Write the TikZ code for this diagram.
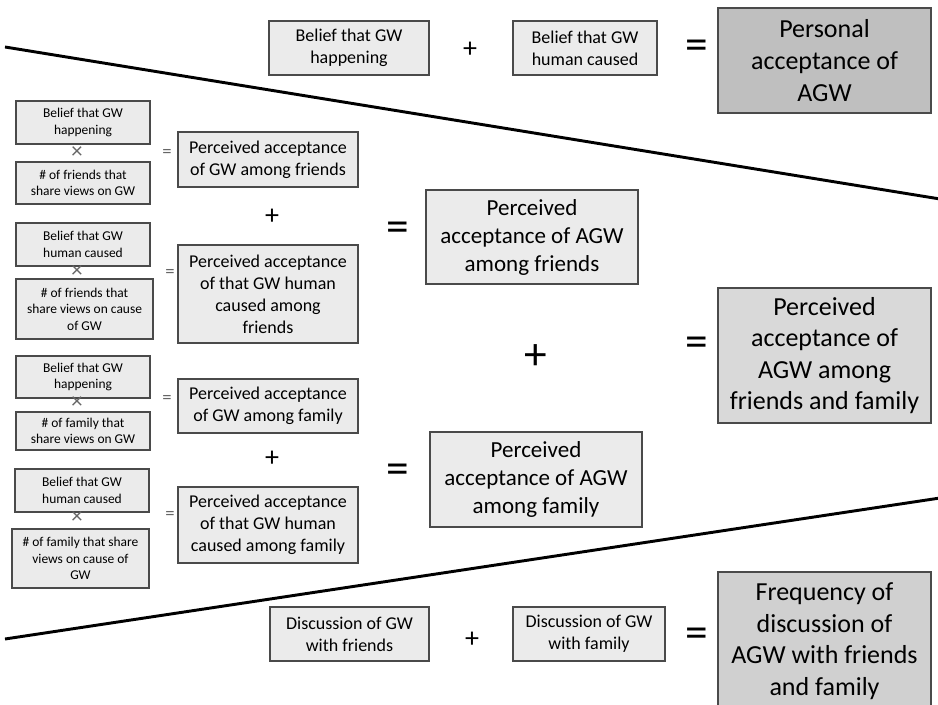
\documentclass[tikz,border=0pt]{standalone}
\usepackage{fontspec}
\setmainfont{Carlito}
\definecolor{boxline}{HTML}{4A4A4A}
\definecolor{lightfill}{HTML}{EBEBEB}
\definecolor{personalfill}{HTML}{BFBFBF}
\definecolor{groupfill}{HTML}{D9D9D9}
\definecolor{talkfill}{HTML}{D0D0D0}
\definecolor{opgray}{HTML}{666666}
\tikzset{
  box/.style={draw=boxline, line width=1.1pt, fill=lightfill, inner sep=0pt, align=center},
  tinybox/.style={box, font=\fontsize{10.1}{12.3}\selectfont},
  midbox/.style={box, font=\fontsize{13.5}{16.5}\selectfont},
  bigbox/.style={box, font=\fontsize{17.25}{21}\selectfont},
  hugebox/.style={box, font=\fontsize{19.5}{23.7}\selectfont},
  times/.style={inner sep=0pt, text=opgray, font=\fontsize{17}{17}\selectfont},
  smalleq/.style={inner sep=0pt, text=opgray, font=\fontsize{14}{14}\selectfont},
  midop/.style={inner sep=0pt, yshift=-1.5pt, font=\fontsize{21}{21}\selectfont},
  bigop/.style={inner sep=0pt, yshift=-3.5pt, font=\fontsize{34}{34}\selectfont},
  divider/.style={line width=2.2pt}
}
\begin{document}
\begin{tikzpicture}[x=0.75pt, y=-0.75pt]
\useasboundingbox (0,0) rectangle (938,705);
% dividing lines
\draw [divider] (5,47) -- (940,199);
\draw [divider] (5,639) -- (940,498);
% personal acceptance
\node [midbox, minimum width=120pt, minimum height=40.5pt] (phap) at (349,48) {Belief that GW\\happening};
\node [midop] (pplus) at (470,48) {+};
\node [midbox, minimum width=108pt, minimum height=40.5pt] (pcau) at (585,48) {Belief that GW\\human caused};
\node [bigop] (peq) at (697,45) {=};
\node [hugebox, fill=personalfill, minimum width=159.75pt, minimum height=78.75pt] (pers) at (824.5,60.5) {Personal\\acceptance of\\AGW};
% friends
\node [tinybox, minimum width=100.5pt, minimum height=32.25pt] (fhap) at (83,122.5) {Belief that GW\\happening};
\node [times] (fx1) at (77,153) {×};
\node [tinybox, minimum width=100.5pt, minimum height=31.5pt] (fnum1) at (83,183) {\# of friends that\\share views on GW};
\node [smalleq] (feq1) at (167,153) {=};
\node [midbox, minimum width=135pt, minimum height=41.25pt] (fgw) at (268,159.5) {Perceived acceptance\\of GW among friends};
\node [midop] (fplus) at (272,215) {+};
\node [tinybox, minimum width=100.5pt, minimum height=32.25pt] (fcau) at (83,244.5) {Belief that GW\\human caused};
\node [times] (fx2) at (77,272) {×};
\node [tinybox, minimum width=102.75pt, minimum height=45pt] (fnum2) at (84.5,309) {\# of friends that\\share views on cause\\of GW};
\node [smalleq] (feq2) at (170,273) {=};
\node [midbox, minimum width=135pt, minimum height=73.5pt] (fagw) at (268,294) {Perceived acceptance\\of that GW human\\caused among\\friends};
\node [bigop] (feq) at (398,227) {=};
\node [bigbox, minimum width=159pt, minimum height=70.5pt] (fr) at (532,237) {Perceived\\acceptance of AGW\\among friends};
% family
\node [tinybox, minimum width=100.5pt, minimum height=31.5pt] (mhap) at (83,377) {Belief that GW\\happening};
\node [times] (mx1) at (77,403) {×};
\node [tinybox, minimum width=100.5pt, minimum height=28.5pt] (mnum1) at (83,431) {\# of family that\\share views on GW};
\node [smalleq] (meq1) at (167,399) {=};
\node [midbox, minimum width=135pt, minimum height=40.5pt] (mgw) at (268,406) {Perceived acceptance\\of GW among family};
\node [midop] (mplus) at (272,457) {+};
\node [tinybox, minimum width=100.5pt, minimum height=32.25pt] (mcau) at (82,490.5) {Belief that GW\\human caused};
\node [times] (mx2) at (77,518) {×};
\node [tinybox, minimum width=102.75pt, minimum height=44.25pt] (mnum2) at (80.5,558.5) {\# of family that share\\views on cause of\\GW};
\node [smalleq] (meq2) at (170,515) {=};
\node [midbox, minimum width=135pt, minimum height=57pt] (magw) at (268,525) {Perceived acceptance\\of that GW human\\caused among family};
\node [bigop] (meq) at (398,469) {=};
\node [bigbox, minimum width=159pt, minimum height=71.25pt] (fa) at (536,479.5) {Perceived\\acceptance of AGW\\among family};
% friends and family
\node [bigop] (bplus) at (536,352) {+};
\node [bigop] (beq) at (697,342) {=};
\node [hugebox, fill=groupfill, minimum width=159.75pt, minimum height=101.25pt] (both) at (824.5,355.5) {Perceived\\acceptance of\\AGW among\\friends and family};
% discussion
\node [midbox, minimum width=119.25pt, minimum height=40.5pt] (dfr) at (349.5,634) {Discussion of GW\\with friends};
\node [midop] (dplus) at (472,638) {+};
\node [midbox, minimum width=114pt, minimum height=40.5pt] (dfa) at (589,634) {Discussion of GW\\with family};
\node [bigop] (deq) at (697,633) {=};
\node [hugebox, fill=talkfill, minimum width=159.75pt, minimum height=103.5pt] (freq) at (824.5,641) {Frequency of\\discussion of\\AGW with friends\\and family};
\end{tikzpicture}
\end{document}
